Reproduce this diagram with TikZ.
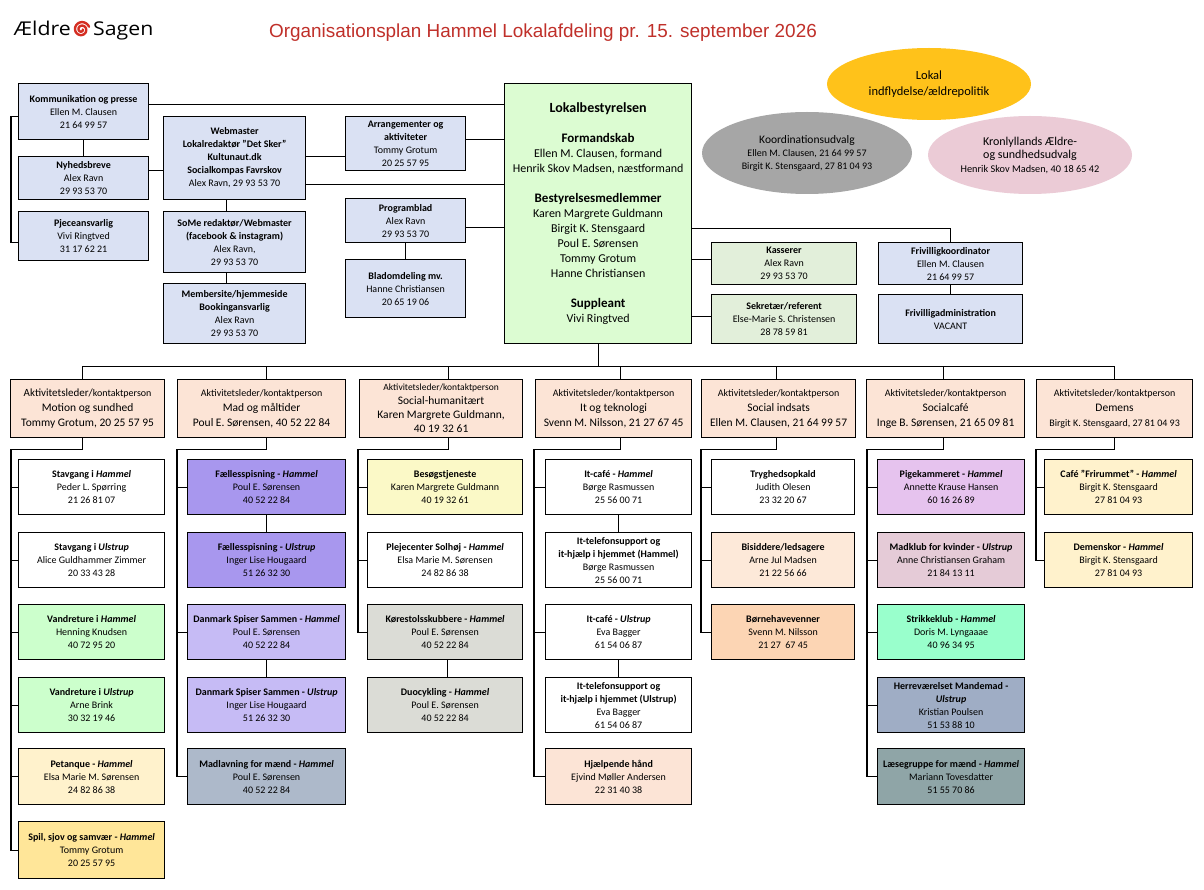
\documentclass[tikz,border=0pt]{standalone}
\usepackage{fontspec}
\setmainfont{Carlito}
\newfontfamily\titlefont{Liberation Sans}
\newfontfamily\logofont{Open Sans}
\usetikzlibrary{shapes.geometric,calc}
\definecolor{titlered}{HTML}{C0302A}
\definecolor{logored}{HTML}{D42E22}
\definecolor{bluebox}{HTML}{DAE1F3}
\definecolor{lokgreen}{HTML}{DCFCD2}
\definecolor{kassgreen}{HTML}{E2EFDA}
\definecolor{gold}{HTML}{FFC21A}
\definecolor{koordgrey}{HTML}{A6A6A6}
\definecolor{kronpink}{HTML}{EBCBD6}
\definecolor{peach}{HTML}{FCE4D6}
\definecolor{vgreen}{HTML}{CCFFCC}
\definecolor{petanque}{HTML}{FFF2CC}
\definecolor{spil}{HTML}{FFE699}
\definecolor{fsp}{HTML}{A897EE}
\definecolor{dss}{HTML}{C6BBF5}
\definecolor{madl}{HTML}{ADB9CA}
\definecolor{besog}{HTML}{FBF9C7}
\definecolor{greybox}{HTML}{DBDCD6}
\definecolor{bisid}{HTML}{FDE9D9}
\definecolor{born}{HTML}{FCD5B4}
\definecolor{pige}{HTML}{E6C3EE}
\definecolor{madklub}{HTML}{E5CBD7}
\definecolor{strik}{HTML}{99FFCC}
\definecolor{herre}{HTML}{9FADC5}
\definecolor{laese}{HTML}{8FA5A7}
\begin{document}
\begin{tikzpicture}[x=1pt,y=-1pt,
  bx/.style={draw, line width=1.2pt, anchor=north west, align=center, inner sep=0pt, font=\fontsize{10}{13}\selectfont},
  wh/.style 2 args={minimum width=#1pt, minimum height=#2pt},
  hb/.style={bx, fill=peach, font=\fontsize{11.5}{15}\selectfont},
  kb/.style={bx, font=\fontsize{10}{13}\selectfont},
  ov/.style={ellipse, inner sep=0pt, align=center},
  ln/.style={draw=black, line width=1.2pt}]
\fill[white] (0,0) rectangle (1204,890);
\useasboundingbox (0,0) rectangle (1204,890);

% logo and title
\node[font=\logofont\fontsize{19}{20}\selectfont, anchor=base east, inner sep=0pt] (aeldre) at (71,35.5) {\scalebox{1.12}[1]{Ældre}};
\node[font=\logofont\fontsize{19}{20}\selectfont, anchor=base west, inner sep=0pt] (sagen) at (93,35.5) {\scalebox{1.12}[1]{Sagen}};
\draw[logored, line width=2.4pt, line cap=round] plot[domain=0:700, samples=120, smooth, variable=\t] ({81.5+(1.2+6.8*\t/700)*cos(\t)}, {29.5+(1.2+6.8*\t/700)*sin(\t)});
\node[font=\titlefont\fontsize{18.9}{21}\selectfont, text=titlered] (title) at (543,33) {Organisationsplan Hammel Lokalafdeling pr. 15. september 2026};

% top left boxes
\node[bx, wh={130}{56}, fill=bluebox] (komm) at (18,83) {\textbf{Kommunikation og presse}\\Ellen M. Clausen\\21 64 99 57};
\node[bx, wh={130}{43}, fill=bluebox] (nyh) at (18,156) {\textbf{Nyhedsbreve}\\Alex Ravn\\29 93 53 70};
\node[bx, wh={130}{49}, fill=bluebox] (pjece) at (18,211) {\textbf{Pjeceansvarlig}\\Vivi Ringtved\\31 17 62 21};
\node[bx, wh={142}{83}, fill=bluebox] (web) at (163,116) {\textbf{Webmaster}\\\textbf{Lokalredaktør "Det Sker"}\\\textbf{Kultunaut.dk}\\\textbf{Socialkompas Favrskov}\\Alex Ravn, 29 93 53 70};
\node[bx, wh={142}{61}, fill=bluebox] (some) at (163,211) {\textbf{SoMe redaktør/Webmaster}\\\textbf{(facebook \& instagram)}\\Alex Ravn,\\29 93 53 70};
\node[bx, wh={142}{60}, fill=bluebox] (member) at (163,283) {\textbf{Membersite/hjemmeside}\\\textbf{Bookingansvarlig}\\Alex Ravn\\29 93 53 70};
\node[bx, wh={120}{54}, fill=bluebox] (arr) at (345,116) {\textbf{Arrangementer og}\\\textbf{aktiviteter}\\Tommy Grotum\\20 25 57 95};
\node[bx, wh={120}{44}, fill=bluebox] (prog) at (345,198) {\textbf{Programblad}\\Alex Ravn\\29 93 53 70};
\node[bx, wh={120}{58}, fill=bluebox] (blad) at (345,259) {\textbf{Bladomdeling mv.}\\Hanne Christiansen\\20 65 19 06};

% board
\node[bx, wh={187}{260}, fill=lokgreen, font=\fontsize{12}{15}\selectfont] (lok) at (504,83) {{\fontsize{14}{15}\selectfont\bfseries Lokalbestyrelsen}\\[15pt]{\fontsize{13}{15}\selectfont\bfseries Formandskab}\\Ellen M. Clausen, formand\\Henrik Skov Madsen, næstformand\\[15pt]{\fontsize{13}{15}\selectfont\bfseries Bestyrelsesmedlemmer}\\Karen Margrete Guldmann\\Birgit K. Stensgaard\\Poul E. Sørensen\\Tommy Grotum\\Hanne Christiansen\\[15pt]{\fontsize{13}{15}\selectfont\bfseries Suppleant}\\Vivi Ringtved};

\node[kb, wh={145}{42}, fill=kassgreen] (kass) at (711,242) {\textbf{Kasserer}\\Alex Ravn\\29 93 53 70};
\node[kb, wh={145}{49}, fill=kassgreen] (sek) at (711,294) {\textbf{Sekretær/referent}\\Else-Marie S. Christensen\\28 78 59 81};
\node[kb, wh={144}{42}, fill=bluebox] (friv) at (878,242) {\textbf{Frivilligkoordinator}\\Ellen M. Clausen\\21 64 99 57};
\node[kb, wh={144}{49}, fill=bluebox] (frivadm) at (878,294) {\textbf{Frivilligadministration}\\VACANT};

% ellipses
\node[ov, fill=gold, minimum width=204pt, minimum height=72pt, font=\fontsize{12.5}{16}\selectfont] (lokal) at (929,84) {Lokal\\indflydelse/ældrepolitik};
\node[ov, fill=koordgrey, minimum width=210pt, minimum height=82pt, font=\fontsize{10}{13}\selectfont] (koord) at (807,153) {{\fontsize{11.5}{13}\selectfont Koordinationsudvalg}\\Ellen M. Clausen, 21 64 99 57\\Birgit K. Stensgaard, 27 81 04 93};
\node[ov, fill=kronpink, minimum width=204pt, minimum height=78pt, font=\fontsize{10.3}{13.5}\selectfont] (kron) at (1030,155) {{\fontsize{12}{13.5}\selectfont Kronlyllands Ældre-}\\{\fontsize{12}{13.5}\selectfont og sundhedsudvalg}\\Henrik Skov Madsen, 40 18 65 42};

% activity headers
\node[hb, wh={154}{58}] (h1) at (10,379) {{\fontsize{11}{15}\selectfont Aktivitetsleder/}{\fontsize{10}{15}\selectfont kontaktperson}\\Motion og sundhed\\Tommy Grotum, 20 25 57 95};
\node[hb, wh={168}{58}] (h2) at (177,379) {{\fontsize{10}{15}\selectfont Aktivitetsleder/kontaktperson}\\Mad og måltider\\Poul E. Sørensen, 40 52 22 84};
\node[hb, wh={163}{58}, font=\fontsize{11.5}{14}\selectfont] (h3) at (359,379) {{\fontsize{9.5}{14}\selectfont Aktivitetsleder/kontaktperson}\\Social-humanitært\\Karen Margrete Guldmann,\\40 19 32 61};
\node[hb, wh={156}{58}] (h4) at (535,379) {{\fontsize{10}{15}\selectfont Aktivitetsleder/kontaktperson}\\It og teknologi\\Svenn M. Nilsson, 21 27 67 45};
\node[hb, wh={154}{58}] (h5) at (701,379) {{\fontsize{10}{15}\selectfont Aktivitetsleder/kontaktperson}\\Social indsats\\Ellen M. Clausen, 21 64 99 57};
\node[hb, wh={158}{58}] (h6) at (866,379) {{\fontsize{10}{15}\selectfont Aktivitetsleder/kontaktperson}\\Socialcafé\\Inge B. Sørensen, 21 65 09 81};
\node[hb, wh={156}{58}] (h7) at (1036,379) {{\fontsize{10}{15}\selectfont Aktivitetsleder/kontaktperson}\\Demens\\{\fontsize{10}{15}\selectfont Birgit K. Stensgaard, 27 81 04 93}};

% column 1
\node[bx, wh={146}{55}, fill=white] (c11) at (18,459) {\textbf{Stavgang i \textit{Hammel}}\\Peder L. Spørring\\21 26 81 07};
\node[bx, wh={146}{55}, fill=white] (c12) at (18,532) {\textbf{Stavgang i \textit{Ulstrup}}\\Alice Guldhammer Zimmer\\20 33 43 28};
\node[bx, wh={146}{55}, fill=vgreen] (c13) at (18,604) {\textbf{Vandreture i \textit{Hammel}}\\Henning Knudsen\\40 72 95 20};
\node[bx, wh={146}{55}, fill=vgreen] (c14) at (18,677) {\textbf{Vandreture i \textit{Ulstrup}}\\Arne Brink\\30 32 19 46};
\node[bx, wh={146}{56}, fill=petanque] (c15) at (18,748) {\textbf{Petanque - \textit{Hammel}}\\Elsa Marie M. Sørensen\\24 82 86 38};
\node[bx, wh={146}{57}, fill=spil] (c16) at (18,821) {\textbf{Spil, sjov og samvær - \textit{Hammel}}\\Tommy Grotum\\20 25 57 95};

% column 2
\node[bx, wh={158}{55}, fill=fsp] (c21) at (187,459) {\textbf{Fællesspisning - \textit{Hammel}}\\Poul E. Sørensen\\40 52 22 84};
\node[bx, wh={158}{55}, fill=fsp] (c22) at (187,532) {\textbf{Fællesspisning - \textit{Ulstrup}}\\Inger Lise Hougaard\\51 26 32 30};
\node[bx, wh={158}{55}, fill=dss] (c23) at (187,604) {\textbf{Danmark Spiser Sammen - \textit{Hammel}}\\Poul E. Sørensen\\40 52 22 84};
\node[bx, wh={158}{55}, fill=dss] (c24) at (187,677) {\textbf{Danmark Spiser Sammen - \textit{Ulstrup}}\\Inger Lise Hougaard\\51 26 32 30};
\node[bx, wh={158}{56}, fill=madl] (c25) at (187,748) {\textbf{Madlavning for mænd - \textit{Hammel}}\\Poul E. Sørensen\\40 52 22 84};

% column 3
\node[bx, wh={155}{55}, fill=besog] (c31) at (367,459) {\textbf{Besøgstjeneste}\\Karen Margrete Guldmann\\40 19 32 61};
\node[bx, wh={155}{55}, fill=white] (c32) at (367,532) {\textbf{Plejecenter Solhøj - \textit{Hammel}}\\Elsa Marie M. Sørensen\\24 82 86 38};
\node[bx, wh={155}{55}, fill=greybox] (c33) at (367,604) {\textbf{Kørestolsskubbere - \textit{Hammel}}\\Poul E. Sørensen\\40 52 22 84};
\node[bx, wh={155}{55}, fill=greybox] (c34) at (367,677) {\textbf{Duocykling - \textit{Hammel}}\\Poul E. Sørensen\\40 52 22 84};

% column 4
\node[bx, wh={146}{55}, fill=white] (c41) at (545,459) {\textbf{It-café - \textit{Hammel}}\\Børge Rasmussen\\25 56 00 71};
\node[bx, wh={146}{55}, fill=white] (c42) at (545,532) {\textbf{It-telefonsupport og}\\\textbf{it-hjælp i hjemmet (Hammel)}\\Børge Rasmussen\\25 56 00 71};
\node[bx, wh={146}{55}, fill=white] (c43) at (545,604) {\textbf{It-café - \textit{Ulstrup}}\\Eva Bagger\\61 54 06 87};
\node[bx, wh={146}{55}, fill=white] (c44) at (545,677) {\textbf{It-telefonsupport og}\\\textbf{it-hjælp i hjemmet (Ulstrup)}\\Eva Bagger\\61 54 06 87};
\node[bx, wh={146}{56}, fill=peach] (c45) at (545,748) {\textbf{Hjælpende hånd}\\Ejvind Møller Andersen\\22 31 40 38};

% column 5
\node[bx, wh={143}{55}, fill=white] (c51) at (711,459) {\textbf{Tryghedsopkald}\\Judith Olesen\\23 32 20 67};
\node[bx, wh={143}{55}, fill=bisid] (c52) at (711,532) {\textbf{Bisiddere/ledsagere}\\Arne Jul Madsen\\21 22 56 66};
\node[bx, wh={143}{55}, fill=born] (c53) at (711,604) {\textbf{Børnehavevenner}\\Svenn M. Nilsson\\21 27\ \ 67 45};

% column 6
\node[bx, wh={147}{55}, fill=pige] (c61) at (877,459) {\textbf{Pigekammeret - \textit{Hammel}}\\Annette Krause Hansen\\60 16 26 89};
\node[bx, wh={147}{55}, fill=madklub] (c62) at (877,532) {\textbf{Madklub for kvinder - \textit{Ulstrup}}\\Anne Christiansen Graham\\21 84 13 11};
\node[bx, wh={147}{55}, fill=strik] (c63) at (877,604) {\textbf{Strikkeklub - \textit{Hammel}}\\Doris M. Lyngaaae\\40 96 34 95};
\node[bx, wh={147}{55}, fill=herre] (c64) at (877,677) {\textbf{Herreværelset Mandemad -}\\\textbf{\textit{Ulstrup}}\\Kristian Poulsen\\51 53 88 10};
\node[bx, wh={147}{56}, fill=laese] (c65) at (877,748) {\textbf{Læsegruppe for mænd - \textit{Hammel}}\\Mariann Tovesdatter\\51 55 70 86};

% column 7
\node[bx, wh={148}{55}, fill=petanque] (c71) at (1044,459) {\textbf{Café "Frirummet" - \textit{Hammel}}\\Birgit K. Stensgaard\\27 81 04 93};
\node[bx, wh={148}{55}, fill=petanque] (c72) at (1044,532) {\textbf{Demenskor - \textit{Hammel}}\\Birgit K. Stensgaard\\27 81 04 93};

% ---- connectors, top left
\draw[ln] ($(komm.east)+(0,-7)$) coordinate (a) -- (a -| lok.west);
\draw[ln] ($(arr.east)+(0,-4)$) coordinate (a) -- (a -| lok.west);
\draw[ln] ($(web.east)+(0,26.5)$) coordinate (a) -- (a -| lok.west);
\draw[ln] ($(prog.east)+(0,7)$) coordinate (a) -- (a -| lok.west);
\draw[ln] ($(web.east)+(0,-1.5)$) coordinate (a) -- (a -| arr.west);
\draw[ln] ($(nyh.east)+(0,-7.5)$) coordinate (a) -- (a -| web.west);
\draw[ln] (komm.south) -- (nyh.north);
\draw[ln] ($(komm.west)+(0,5)$) -- ++(-7,0) |- ($(pjece.west)+(0,6.5)$);
\draw[ln] ($(web.south)+(-8,0)$) coordinate (a) -- (a |- some.north);
\draw[ln] ($(some.south)+(-8,0)$) coordinate (a) -- (a |- member.north);
\draw[ln] (prog.south) -- (blad.north);

% board right side
\draw[ln] ($(lok.east)+(0,15)$) -| (friv.north);
\draw[ln] ($(kass.west)+(0,-4)$) coordinate (a) -- (a -| lok.east);
\draw[ln] ($(sek.west)+(0,-2.5)$) coordinate (a) -- (a -| lok.east);
\draw[ln] (friv.south) -- (frivadm.north);

% bus
\draw[ln] (lok.south) -- ++(0,22) coordinate (bus);
\draw[ln] (bus) -| ($(h1.north)+(-5,0)$);
\draw[ln] (bus) -| ($(h2.north)+(5,0)$);
\draw[ln] (bus) -| ($(h3.north)+(7.5,0)$);
\draw[ln] (bus) -| ($(h4.north)+(7,0)$);
\draw[ln] (bus) -| ($(h5.north)+(-2,0)$);
\draw[ln] (bus) -| ($(h6.north)+(-2,0)$);
\draw[ln] (bus) -| (h7.north);

% column 1 bracket
\draw[ln] ($(h1.south)+(-5,0)$) -- ++(0,11) -| ($(c16.west)+(-7,0)$) -- (c16.west);
\foreach \n in {c11,c12,c13,c14,c15} \draw[ln] (\n.west) -- ++(-7,0);
% column 2
\draw[ln] ($(h2.south)+(5,0)$) -- ++(0,11) -| ($(c25.west)+(-10,0)$) -- (c25.west);
\foreach \n in {c21,c23} \draw[ln] (\n.west) -- ++(-10,0);
\draw[ln] (c21.south) -- (c22.north);
\draw[ln] (c23.south) -- (c24.north);
% column 3
\draw[ln] ($(h3.south)+(7.5,0)$) -- ++(0,11) -| ($(c33.west)+(-9,0)$) -- (c33.west);
\foreach \n in {c31,c32} \draw[ln] (\n.west) -- ++(-9,0);
\draw[ln] ($(c33.south)+(2.5,0)$) coordinate (a) -- (a |- c34.north);
% column 4
\draw[ln] ($(h4.south)+(7,0)$) -- ++(0,11) -| ($(c45.west)+(-11,0)$) -- (c45.west);
\foreach \n in {c41,c43} \draw[ln] (\n.west) -- ++(-11,0);
\draw[ln] (c41.south) -- (c42.north);
\draw[ln] (c43.south) -- (c44.north);
% column 5
\draw[ln] ($(h5.south)+(-2,0)$) -- ++(0,11) -| ($(c53.west)+(-10,0)$) -- (c53.west);
\foreach \n in {c51,c52} \draw[ln] (\n.west) -- ++(-10,0);
% column 6
\draw[ln] ($(h6.south)+(-2,0)$) -- ++(0,11) -| ($(c65.west)+(-10,0)$) -- (c65.west);
\foreach \n in {c61,c62,c63,c64} \draw[ln] (\n.west) -- ++(-10,0);
% column 7
\draw[ln] (h7.south) -- ++(0,11) -| ($(c72.west)+(-8,0)$) -- (c72.west);
\draw[ln] (c71.west) -- ++(-8,0);
\end{tikzpicture}
\end{document}
